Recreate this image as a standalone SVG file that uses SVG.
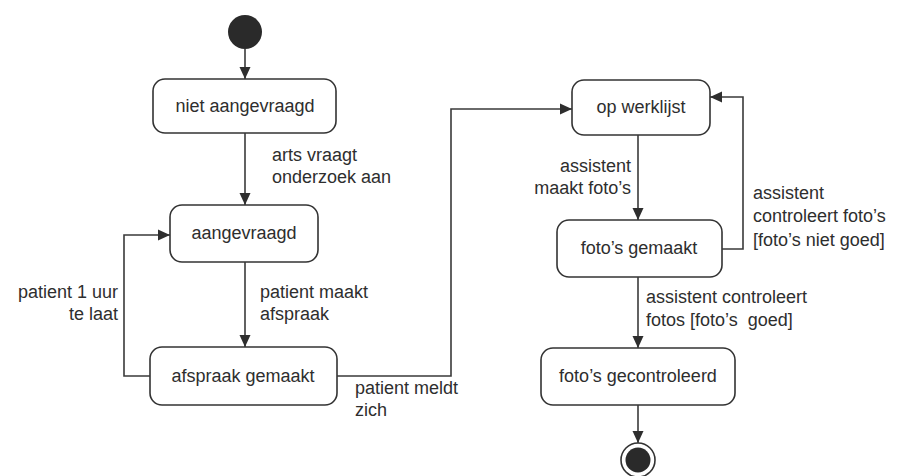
<svg xmlns="http://www.w3.org/2000/svg" width="898" height="476" viewBox="0 0 898 476">
  <style>
    .state rect { fill: #ffffff; stroke: #333333; stroke-width: 1.6; }
    .state text, .lbl { font-family: "Liberation Sans", Arial, sans-serif; font-size: 18px; fill: #2e2e2e; }
    .state text { text-anchor: middle; }
    .conn { fill: none; stroke: #3a3a3a; stroke-width: 1.6; marker-end: url(#arrow); }
    .end { text-anchor: end; }
  </style>
  <defs>
    <marker id="arrow" viewBox="0 0 12 12" refX="12" refY="6" markerWidth="12" markerHeight="12" markerUnits="userSpaceOnUse" orient="auto">
      <path d="M0,0.5 L12,6 L0,11.5 Z" fill="#2e2e2e"/>
    </marker>
  </defs>
  <rect width="898" height="476" fill="#ffffff"/>

  <!-- initial pseudo-state -->
  <g id="start">
    <circle cx="245" cy="32" r="17" fill="#2a2a2a"/>
  </g>

  <!-- states -->
  <g id="niet-aangevraagd" class="state">
    <rect x="153" y="79" width="183" height="54" rx="12"/>
    <text x="245" y="112">niet aangevraagd</text>
  </g>
  <g id="aangevraagd" class="state">
    <rect x="170" y="205" width="148" height="57" rx="12"/>
    <text x="244" y="239">aangevraagd</text>
  </g>
  <g id="afspraak-gemaakt" class="state">
    <rect x="150" y="347" width="187" height="58" rx="12"/>
    <text x="243" y="382">afspraak gemaakt</text>
  </g>
  <g id="op-werklijst" class="state">
    <rect x="572" y="80" width="138" height="55" rx="12"/>
    <text x="641" y="113">op werklijst</text>
  </g>
  <g id="fotos-gemaakt" class="state">
    <rect x="557" y="220" width="165" height="57" rx="12"/>
    <text x="639" y="254">foto’s gemaakt</text>
  </g>
  <g id="fotos-gecontroleerd" class="state">
    <rect x="541" y="348" width="194" height="57" rx="12"/>
    <text x="638" y="382">foto’s gecontroleerd</text>
  </g>

  <!-- final pseudo-state -->
  <g id="end">
    <circle cx="638" cy="460" r="17" fill="#ffffff" stroke="#333333" stroke-width="1.6"/>
    <circle cx="638" cy="460" r="12.5" fill="#2a2a2a"/>
  </g>

  <!-- transitions -->
  <g id="connectors">
    <path class="conn" d="M245,49 V79"/>
    <path class="conn" d="M245,133 V205"/>
    <path class="conn" d="M245,262 V347"/>
    <path class="conn" d="M150,376 H124 V235 H170"/>
    <path class="conn" d="M337,376 H451 V109 H572"/>
    <path class="conn" d="M638,135 V220"/>
    <path class="conn" d="M722,249 H743 V97 H710"/>
    <path class="conn" d="M638,277 V348"/>
    <path class="conn" d="M638,405 V443"/>
  </g>

  <!-- transition labels -->
  <g id="labels">
    <text class="lbl" x="272" y="161">arts vraagt</text>
    <text class="lbl" x="272" y="183">onderzoek aan</text>
    <text class="lbl" x="260" y="298">patient maakt</text>
    <text class="lbl" x="260" y="320">afspraak</text>
    <text class="lbl end" x="118" y="298">patient 1 uur</text>
    <text class="lbl end" x="118" y="320">te laat</text>
    <text class="lbl" x="355" y="394">patient meldt</text>
    <text class="lbl" x="355" y="416">zich</text>
    <text class="lbl end" x="631" y="172">assistent</text>
    <text class="lbl end" x="631" y="194">maakt foto’s</text>
    <text class="lbl" x="753" y="199">assistent</text>
    <text class="lbl" x="753" y="222">controleert foto’s</text>
    <text class="lbl" x="753" y="246">[foto’s niet goed]</text>
    <text class="lbl" x="646" y="303">assistent controleert</text>
    <text class="lbl" x="646" y="326" xml:space="preserve">fotos [foto’s  goed]</text>
  </g>
</svg>
